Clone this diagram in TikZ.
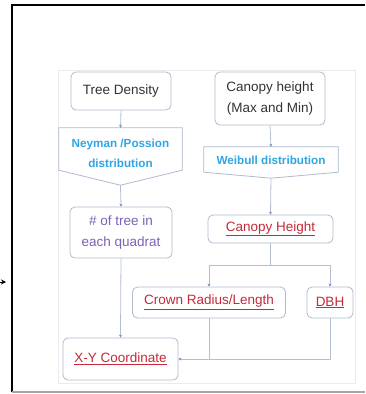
\documentclass[tikz,border=0pt]{standalone}
\usepackage{fontspec}
\setmainfont{Liberation Sans}
\usetikzlibrary{arrows.meta}
\definecolor{boxline}{HTML}{AEBBCC}
\definecolor{conn}{HTML}{B4C0D2}
\definecolor{tipc}{HTML}{7F8FB0}
\definecolor{distblue}{HTML}{2FA6E4}
\definecolor{purp}{HTML}{7C62B4}
\definecolor{redt}{HTML}{C52A3A}
\definecolor{darkt}{HTML}{333333}
\tikzset{
  box/.style={draw=boxline, line width=0.8pt, rounded corners=5pt, fill=white, inner sep=2pt,
    align=center, font=\fontsize{13.5}{21}\selectfont, text=darkt},
  dist/.style={draw=none, inner sep=0pt, align=center, font=\fontsize{11.7}{20}\selectfont\bfseries, text=distblue},
  distshape/.style={draw=boxline, line width=0.8pt, fill=white},
  conline/.style={draw=conn, line width=0.8pt},
  arr/.style={conline, -{Stealth[length=3pt,width=3pt,color=tipc]}},
}
\begin{document}
\begin{tikzpicture}[x=1pt,y=-1pt]
\useasboundingbox (0,0) rectangle (365,394);
% outer frame
\draw[black, line width=2.5pt] (365,5) -- (12,5) -- (12,392);
\draw[gray!70, line width=1.5pt] (12,392) -- (365,392);
\coordinate (inL) at (-4,282);
\coordinate (inR) at (6,282);
\draw[line width=1pt, -{Stealth[length=5pt,width=5pt]}] (inL) -- (inR);
% inner panel
\draw[black!8, line width=0.8pt, fill=white] (58,70) rectangle (355,383);

% nodes
\node[box, minimum width=100pt, minimum height=38pt] (td) at (121,91) {Tree Density};
\node[box, minimum width=110pt, minimum height=53pt] (ch) at (270,98.5) {Canopy height\\(Max and Min)};

\node[dist, minimum width=123pt, minimum height=57pt] (ney) at (120.5,156.5) {};
\draw[distshape] (ney.north west) -- (ney.north east) -- ([yshift=15pt]ney.south east) -- (ney.south) -- ([yshift=15pt]ney.south west) -- cycle;
\node[dist] at (120.5,153) {Neyman /Possion\\distribution};

\node[dist, minimum width=134pt, minimum height=31pt] (wei) at (271,162.5) {};
\draw[distshape] (wei.north west) -- (wei.north east) -- ([yshift=6pt]wei.south east) -- (wei.south) -- ([yshift=6pt]wei.south west) -- cycle;
\node[dist] at (271,160) {Weibull distribution};

\node[box, minimum width=102pt, minimum height=51pt, text=purp] (nt) at (121,232.5) {\# of tree in\\each quadrat};
\node[box, minimum width=125pt, minimum height=28pt, text=redt] (ch2) at (270.5,229) {\underline{Canopy Height}};
\node[box, minimum width=153pt, minimum height=31pt, text=redt] (cr) at (209,302.5) {\underline{Crown Radius/Length}};
\node[box, minimum width=46pt, minimum height=31pt, text=redt] (dbh) at (330,302.5) {\underline{DBH}};
\node[box, minimum width=115pt, minimum height=42pt, text=redt] (xy) at (120.5,359) {\underline{X-Y Coordinate}};

% connectors
\draw[arr] (td.south) -- (ney.north);
\draw[arr] (ney.south) -- (nt.north);
\draw[arr] (nt.south) -- (xy.north);
\draw[arr] (ch.south) -- (wei.north);
\draw[arr] (wei.south) -- (ch2.north);
\coordinate (fork) at (270.5,265);
\draw[arr] (ch2.south) -- (fork) -| (cr.north);
\draw[arr] (fork) -| (dbh.north);
\draw[conline] (cr.south) -- (cr.south |- xy.east);
\draw[arr] (dbh.south) |- (xy.east);
\end{tikzpicture}
\end{document}
